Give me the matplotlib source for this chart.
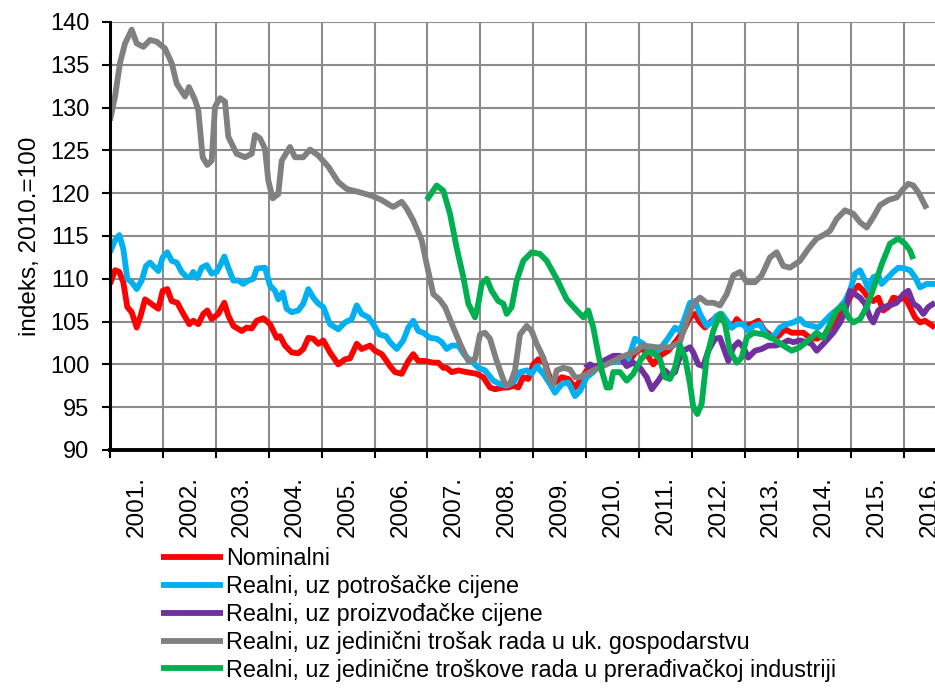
import matplotlib
matplotlib.use("Agg")
import matplotlib.pyplot as plt
from matplotlib.ticker import FixedLocator, NullFormatter
import numpy as np

plt.rcParams['font.family'] = ['Liberation Sans', 'DejaVu Sans']

START_YEAR = 2001
# x positions: years elapsed since Jan 2001
nom_x = [0.000, 0.095, 0.176, 0.251, 0.327, 0.410, 0.505, 0.580, 0.662, 0.756, 0.819, 0.913, 0.996, 1.083, 1.166, 1.272,
         1.386, 1.499, 1.575, 1.669, 1.764, 1.839, 1.922, 2.047, 2.161, 2.236, 2.331, 2.490, 2.584, 2.679, 2.773, 2.898,
         3.025, 3.151, 3.214, 3.308, 3.435, 3.560, 3.654, 3.749, 3.843, 3.938, 4.032, 4.159, 4.316, 4.442, 4.537, 4.664,
         4.758, 4.915, 5.009, 5.136, 5.229, 5.293, 5.388, 5.514, 5.639, 5.733, 5.828, 5.955, 6.112, 6.206, 6.301, 6.365,
         6.459, 6.584, 6.743, 6.932, 7.057, 7.183, 7.278, 7.435, 7.529, 7.624, 7.718, 7.813, 7.907, 8.002, 8.096, 8.223,
         8.285, 8.380, 8.539, 8.664, 8.790, 8.885, 9.011, 9.136, 9.263, 9.452, 9.641, 9.798, 9.956, 10.081, 10.270,
         10.397, 10.554, 10.712, 10.838, 10.964, 11.059, 11.153, 11.248, 11.375, 11.469, 11.564, 11.658, 11.753, 11.847,
         11.942, 12.036, 12.130, 12.255, 12.382, 12.509, 12.633, 12.760, 12.887, 13.106, 13.233, 13.359, 13.484, 13.611,
         13.737, 13.862, 13.957, 14.051, 14.146, 14.241, 14.335, 14.429, 14.524, 14.618, 14.713, 14.807, 14.934, 15.028,
         15.123, 15.217, 15.312, 15.406, 15.501, 15.595]
nom_y = [109.4, 111.0, 110.8, 109.6, 106.7, 106.1, 104.3, 105.7, 107.6, 107.2, 106.9, 106.5, 108.6, 108.8, 107.4, 107.2,
         105.9, 104.7, 105.1, 104.7, 105.9, 106.3, 105.3, 105.9, 107.2, 105.7, 104.5, 103.9, 104.3, 104.2, 105.1, 105.4,
         104.7, 103.1, 103.3, 102.2, 101.4, 101.3, 101.8, 103.1, 103.0, 102.4, 102.8, 101.4, 100.0, 100.6, 100.7, 102.4,
         101.8, 102.2, 101.6, 101.2, 100.4, 99.8, 99.1, 98.9, 100.4, 101.2, 100.4, 100.4, 100.2, 100.2, 99.6, 99.6,
         99.1, 99.3, 99.1, 98.9, 98.5, 97.3, 97.1, 97.3, 97.3, 97.5, 97.3, 98.5, 98.3, 100.0, 100.6, 100.2,
         98.9, 97.7, 98.5, 98.3, 97.3, 98.1, 99.3, 99.6, 100.0, 100.4, 100.4, 100.2, 101.6, 101.8, 100.0,
         101.0, 101.6, 102.8, 103.9, 105.5, 105.9, 104.9, 104.3, 105.1, 105.5, 105.3, 104.7, 104.3, 105.3,
         104.7, 104.5, 104.7, 105.1, 103.9, 103.3, 103.3, 104.1, 103.7, 103.7, 103.1, 103.0, 103.3, 104.3,
         105.1, 106.3, 107.4, 108.6, 109.2, 108.6, 107.8, 107.4, 107.8, 106.3, 106.7, 107.8, 107.6, 107.8,
         106.7, 105.5, 104.9, 105.1, 104.7, 104.3]

cpi_x = [0.000, 0.095, 0.176, 0.251, 0.327, 0.410, 0.505, 0.599, 0.681, 0.756, 0.913, 0.996, 1.083, 1.166, 1.261, 1.355,
         1.450, 1.512, 1.575, 1.650, 1.733, 1.828, 1.922, 2.017, 2.093, 2.161, 2.236, 2.331, 2.425, 2.520, 2.614, 2.709,
         2.773, 2.930, 3.025, 3.119, 3.181, 3.265, 3.340, 3.435, 3.560, 3.654, 3.749, 3.843, 3.938, 4.032, 4.159, 4.316,
         4.442, 4.569, 4.664, 4.758, 4.883, 4.977, 5.091, 5.217, 5.293, 5.420, 5.544, 5.639, 5.733, 5.828, 5.922, 6.049,
         6.176, 6.270, 6.365, 6.459, 6.584, 6.711, 6.837, 6.962, 7.089, 7.246, 7.372, 7.499, 7.624, 7.750, 7.877, 7.972,
         8.066, 8.191, 8.318, 8.412, 8.539, 8.664, 8.790, 8.885, 9.011, 9.136, 9.263, 9.452, 9.641, 9.798, 9.924, 10.081,
         10.270, 10.397, 10.554, 10.681, 10.775, 10.870, 10.964, 11.059, 11.153, 11.280, 11.375, 11.469, 11.564, 11.658,
         11.753, 11.847, 11.972, 12.066, 12.161, 12.287, 12.382, 12.476, 12.571, 12.665, 12.792, 12.917, 13.043, 13.138,
         13.265, 13.389, 13.516, 13.643, 13.767, 13.894, 13.989, 14.083, 14.178, 14.272, 14.335, 14.429, 14.524, 14.588,
         14.713, 14.807, 14.902, 15.028, 15.123, 15.217, 15.312, 15.439, 15.595]
cpi_y = [113.1, 114.5, 115.1, 113.5, 110.0, 109.6, 108.8, 109.8, 111.5, 111.9, 110.9, 112.5, 113.1, 112.1, 111.9, 110.8,
         110.2, 110.2, 110.8, 110.1, 111.3, 111.6, 110.6, 110.8, 111.7, 112.6, 111.3, 109.8, 109.8, 109.4, 109.8, 110.0,
         111.2, 111.3, 109.2, 108.6, 107.6, 108.4, 106.5, 106.1, 106.3, 107.1, 108.8, 107.8, 107.1, 106.7, 104.7, 104.1,
         104.9, 105.3, 106.9, 105.9, 105.5, 104.7, 103.5, 103.3, 102.6, 101.8, 102.8, 104.3, 105.1, 103.9, 103.7, 103.1,
         103.0, 102.6, 101.8, 102.2, 102.2, 101.0, 100.4, 99.6, 99.3, 98.1, 97.7, 97.5, 97.9, 99.1, 99.3, 98.9,
         99.8, 98.9, 97.7, 96.7, 97.7, 97.9, 96.3, 96.9, 98.5, 99.1, 100.0, 100.2, 100.4, 100.6, 103.0, 102.4,
         101.2, 101.8, 103.1, 104.3, 103.9, 105.5, 107.2, 107.4, 105.9, 104.5, 104.9, 105.7, 105.9, 105.1,
         104.3, 104.7, 104.7, 103.9, 104.5, 104.7, 103.7, 103.1, 103.5, 104.3, 104.7, 104.9, 105.3, 104.7,
         104.5, 104.3, 105.1, 105.9, 106.5, 107.4, 108.6, 110.6, 111.0, 109.8, 108.8, 110.2, 110.4, 109.4,
         110.2, 110.8, 111.3, 111.2, 111.0, 110.2, 109.0, 109.4, 109.4]

ppi_x = [8.979, 9.074, 9.200, 9.325, 9.514, 9.641, 9.767, 9.892, 10.019, 10.146, 10.240, 10.365, 10.491, 10.586, 10.681,
         10.743, 10.838, 10.964, 11.026, 11.121, 11.215, 11.310, 11.437, 11.531, 11.594, 11.688, 11.783, 11.877, 11.972,
         12.066, 12.193, 12.319, 12.444, 12.571, 12.698, 12.822, 12.917, 13.043, 13.170, 13.265, 13.359, 13.454, 13.544,
         13.673, 13.800, 13.894, 13.989, 14.083, 14.178, 14.272, 14.367, 14.429, 14.524, 14.618, 14.745, 14.871, 14.996,
         15.091, 15.185, 15.280, 15.375, 15.469, 15.595]
ppi_y = [99.6, 100.0, 99.6, 100.4, 101.0, 101.0, 99.8, 100.2, 99.6, 98.5, 97.1, 98.1, 99.3, 98.7, 99.1,
         100.4, 101.6, 102.0, 101.4, 100.0, 99.8, 101.6, 103.0, 103.1, 102.0, 100.4, 102.0, 102.6, 102.0,
         100.8, 101.6, 101.8, 102.2, 102.2, 102.4, 102.8, 102.6, 102.8, 102.6, 102.4, 101.6, 102.2, 102.8,
         103.7, 104.9, 106.1, 108.6, 108.2, 107.8, 107.1, 105.5, 104.9, 106.3, 106.7, 106.9, 107.2, 108.2,
         108.6, 107.1, 106.7, 105.9, 106.7, 107.2]

ulc_x = [0.000, 0.095, 0.189, 0.284, 0.410, 0.505, 0.630, 0.756, 0.883, 1.040, 1.166, 1.261, 1.418, 1.493, 1.607, 1.669,
         1.752, 1.839, 1.922, 1.985, 2.079, 2.174, 2.236, 2.395, 2.552, 2.679, 2.741, 2.836, 2.930, 2.992, 3.076, 3.181,
         3.246, 3.403, 3.497, 3.654, 3.781, 3.938, 4.127, 4.316, 4.474, 4.726, 4.947, 5.136, 5.293, 5.356, 5.514, 5.609,
         5.733, 5.892, 5.987, 6.112, 6.225, 6.333, 6.490, 6.648, 6.773, 6.900, 6.994, 7.089, 7.183, 7.310, 7.467, 7.561,
         7.656, 7.750, 7.877, 7.972, 8.066, 8.191, 8.285, 8.380, 8.444, 8.569, 8.696, 8.790, 8.885, 9.136, 9.389, 9.641,
         9.892, 10.081, 10.335, 10.586, 10.775, 10.902, 11.026, 11.153, 11.280, 11.404, 11.531, 11.658, 11.783, 11.909,
         12.036, 12.193, 12.319, 12.476, 12.603, 12.728, 12.854, 13.043, 13.200, 13.359, 13.484, 13.611, 13.737, 13.894,
         14.051, 14.178, 14.305, 14.429, 14.556, 14.713, 14.871, 14.996, 15.091, 15.185, 15.280, 15.439]
ulc_y = [128.5, 131.3, 135.2, 137.5, 139.1, 137.5, 137.1, 137.9, 137.7, 136.9, 135.2, 132.8, 131.3, 132.4, 130.9, 129.7,
         124.2, 123.3, 123.8, 130.1, 131.1, 130.7, 126.6, 124.6, 124.2, 124.6, 126.8, 126.4, 125.2, 121.5, 119.4, 119.9,
         123.8, 125.4, 124.2, 124.2, 125.1, 124.4, 123.1, 121.3, 120.5, 120.1, 119.7, 119.2, 118.6, 118.4, 119.0, 118.2,
         116.8, 114.5, 111.7, 108.2, 107.6, 106.7, 104.3, 102.0, 100.4, 100.6, 103.5, 103.7, 103.0, 100.4, 97.7, 97.7,
         99.3, 103.5, 104.5, 103.9, 102.4, 100.8, 98.5, 97.7, 99.3, 99.6, 99.4, 98.5, 98.5, 99.3, 100.0, 100.8,
         101.4, 102.2, 102.0, 102.0, 102.6, 105.1, 107.1, 107.8, 107.2, 107.2, 106.9, 108.2, 110.4, 110.8,
         109.6, 109.6, 110.4, 112.5, 113.1, 111.5, 111.3, 112.1, 113.5, 114.7, 115.1, 115.6, 117.0, 118.0,
         117.6, 116.6, 116.0, 117.2, 118.6, 119.2, 119.5, 120.5, 121.1, 120.9, 120.1, 118.2]

mfg_x = [5.987, 6.176, 6.301, 6.427, 6.554, 6.679, 6.773, 6.900, 6.962, 7.026, 7.121, 7.215, 7.340, 7.435, 7.499, 7.594,
         7.688, 7.813, 7.972, 8.129, 8.255, 8.444, 8.633, 8.822, 8.947, 9.042, 9.136, 9.231, 9.295, 9.389, 9.452, 9.514,
         9.641, 9.767, 9.892, 10.019, 10.146, 10.270, 10.397, 10.491, 10.586, 10.681, 10.775, 10.870, 10.964, 11.026,
         11.102, 11.185, 11.280, 11.404, 11.531, 11.626, 11.720, 11.847, 11.942, 12.036, 12.161, 12.350, 12.539, 12.728,
         12.887, 13.043, 13.233, 13.359, 13.484, 13.611, 13.737, 13.862, 13.957, 14.051, 14.178, 14.305, 14.461, 14.588,
         14.745, 14.902, 15.028, 15.123, 15.185]
mfg_y = [119.2, 120.9, 120.3, 117.6, 113.6, 110.2, 107.1, 105.5, 107.1, 109.4, 110.0, 108.6, 107.4, 107.1, 105.9, 106.7,
         109.8, 112.1, 113.1, 112.9, 112.1, 110.0, 107.6, 106.3, 105.5, 106.3, 104.3, 101.2, 99.3, 97.3, 97.3, 99.1,
         99.1, 98.1, 98.9, 100.4, 101.4, 101.4, 100.6, 98.5, 98.3, 99.6, 102.2, 100.8, 97.7, 95.0,
         94.2, 95.4, 100.8, 103.9, 105.9, 104.7, 101.6, 100.2, 100.8, 103.1, 103.7, 103.5, 103.0, 102.2,
         101.6, 102.0, 103.0, 103.7, 103.1, 104.7, 106.3, 106.9, 105.5, 104.9, 105.3, 106.7, 109.4, 111.7,
         114.1, 114.7, 114.1, 113.3, 112.3]

labels = ["Nominalni",
          "Realni, uz potrošačke cijene",
          "Realni, uz proizvođačke cijene",
          "Realni, uz jedinični trošak rada u uk. gospodarstvu",
          "Realni, uz jedinične troškove rada u prerađivačkoj industriji"]
colors = ["#FF0000", "#00B0F0", "#7030A0", "#808080", "#00B050"]
years = list(range(2001, 2017))
year_labels = [f"{y}." for y in years]
yticks = list(range(90, 141, 5))

W, H = 935, 688
fig = plt.figure(figsize=(W / 100, H / 100), dpi=100)
ax = fig.add_axes([110 / W, 1 - 450 / H, 1 - 110 / W, (450 - 22) / H])

series = [(nom_x, nom_y), (cpi_x, cpi_y), (ppi_x, ppi_y), (ulc_x, ulc_y), (mfg_x, mfg_y)]
handles = []
for (xs, ys), c, lab in zip(series, colors, labels):
    xx = START_YEAR + np.asarray(xs)
    h, = ax.plot(xx, ys, color=c, lw=4.2, label=lab, solid_joinstyle='round',
                 solid_capstyle='butt', clip_on=True)
    handles.append(h)

ax.set_xlim(START_YEAR, START_YEAR + (935 - 110) / 52.9)
ax.set_ylim(90, 140)
ax.set_yticks(yticks)
ax.set_yticklabels([str(t) for t in yticks], fontsize=17)

ax.xaxis.set_major_locator(FixedLocator(years))
ax.xaxis.set_major_formatter(NullFormatter())
ax.xaxis.set_minor_locator(FixedLocator([y + 0.5 for y in years]))
ax.set_xticklabels(year_labels, minor=True, rotation=90, fontsize=17.5, va='top', ha='center')
ax.tick_params(axis='x', which='minor', length=0, pad=18.5)
ax.tick_params(axis='x', which='major', length=6, width=1.5, direction='out', color='black')
ax.tick_params(axis='y', which='major', length=6, width=1.5, direction='out', pad=9, color='black')

ax.grid(True, which='major', color='#8c8c8c', lw=1.5)
ax.set_axisbelow(True)
for s in ['top', 'right']:
    ax.spines[s].set_visible(False)
ax.spines['left'].set_linewidth(2.2)
ax.spines['bottom'].set_linewidth(2.8)

fig.text(30 / W, 1 - 236 / H, "indeks, 2010.=100", rotation=90, fontsize=17.5,
         ha='center', va='center')

leg = fig.legend(handles=handles, loc='upper left', bbox_to_anchor=(161 / W, 1 - 547 / H),
                 frameon=False, fontsize=16.8, handlelength=2.65, handletextpad=0.15,
                 labelspacing=0.21, borderpad=0, borderaxespad=0)
for l in leg.get_lines():
    l.set_linewidth(4.2)

fig.savefig("out.png", dpi=100)
